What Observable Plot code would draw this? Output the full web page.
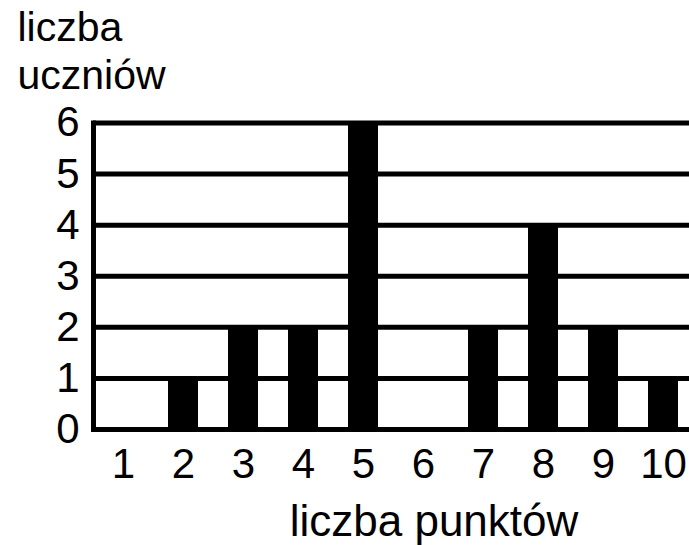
<!DOCTYPE html>
<html>
<head>
<meta charset="utf-8">
<script src="https://cdn.jsdelivr.net/npm/d3@7"></script>
<script src="https://cdn.jsdelivr.net/npm/@observablehq/plot@0.6"></script>
<style>
  html, body { margin: 0; padding: 0; background: #fff; }
  #chart svg { display: block; }
</style>
</head>
<body>
<div id="chart"></div>
<script>
// Data
const points = ["1", "2", "3", "4", "5", "6", "7", "8", "9", "10"];
const counts = [0, 1, 2, 2, 6, 0, 2, 4, 2, 1];
const yTicks = [0, 1, 2, 3, 4, 5, 6];
const yTitle = "liczba\nuczniów";
const xTitle = "liczba punktów";

const data = points.map((p, i) => ({p, c: counts[i]}));

const font = "'Liberation Sans', Arial, Helvetica, sans-serif";

const chart = Plot.plot({
  width: 689,
  height: 545,
  marginTop: 122.5,
  marginBottom: 116,
  marginLeft: 93,
  marginRight: -3,
  style: {fontFamily: font, color: "black", background: "white"},
  x: {domain: points, paddingInner: 0.5, paddingOuter: 0.233, axis: null},
  y: {domain: [0, 6], axis: null},
  marks: [
    Plot.ruleY(yTicks, {stroke: "black", strokeWidth: 5}),
    Plot.barY(data, {x: "p", y: "c", fill: "black"}),
    Plot.frame({anchor: "left", stroke: "black", strokeWidth: 5}),
    Plot.axisY(yTicks, {tickSize: 0, tickPadding: 14, fontSize: 42, label: null, fill: "black", tickFormat: d3.format("d")}),
    Plot.axisX({tickSize: 0, tickPadding: 19, fontSize: 42, label: null, fill: "black"}),
    Plot.text([xTitle], {frameAnchor: "bottom", dx: 41, dy: 106, lineAnchor: "bottom", fontSize: 44, fill: "black"}),
    Plot.text([yTitle], {frameAnchor: "top-left", textAnchor: "start", dx: -76, dy: -34.5, lineAnchor: "bottom", lineHeight: 1.16, fontSize: 41, fill: "black"})
  ]
});
document.getElementById("chart").appendChild(chart);
</script>
</body>
</html>
